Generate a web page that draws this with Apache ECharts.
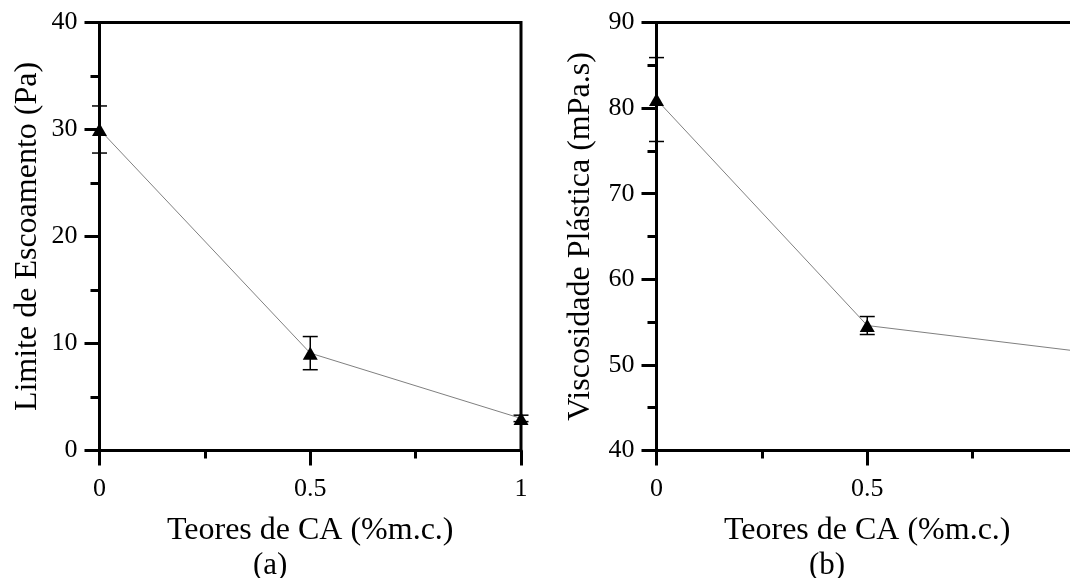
<!DOCTYPE html>
<html>
<head>
<meta charset="utf-8">
<script src="https://cdn.jsdelivr.net/npm/echarts@6/dist/echarts.min.js"></script>
<style>
html,body{margin:0;padding:0;background:#fff;}
#chart{width:1070px;height:578px;}
</style>
</head>
<body>
<div id="chart"></div>
<script>
// ---- data ----
const caContent = [0, 0.5, 1];                 // Teores de CA (%m.c.)
const yieldStress = [30.0, 9.1, 3.0];          // Limite de Escoamento (Pa)
const yieldStressErr = [2.2, 1.55, 0.3];
const plasticVisc = [81.0, 54.6, 51.6];        // Viscosidade Plástica (mPa.s)
const plasticViscErr = [4.9, 1.05, 5.6];
const xTitle = 'Teores de CA (%m.c.)';
const yTitleA = 'Limite de Escoamento (Pa)';
const yTitleB = 'Viscosidade Plástica (mPa.s)';
const panelLabels = ['(a)', '(b)'];

const FONT = '"Liberation Serif", "Times New Roman", serif';

function xAxisCfg(idx) {
  return {
    type: 'value', gridIndex: idx, min: 0, max: 1, interval: 0.5,
    name: xTitle, nameLocation: 'middle', nameGap: 64,
    nameTextStyle: { fontFamily: FONT, fontSize: 32, color: '#000' },
    axisLine: { show: true, lineStyle: { color: '#000', width: 3 } },
    axisTick: { show: true, length: 15, lineStyle: { color: '#000', width: 3 } },
    minorTick: { show: true, splitNumber: 2, length: 8, lineStyle: { color: '#000', width: 3 } },
    axisLabel: { fontFamily: FONT, fontSize: 26, color: '#000', margin: 26, showMaxLabel: true, showMinLabel: true },
    splitLine: { show: false }, minorSplitLine: { show: false }
  };
}
function yAxisCfg(idx, min, max, name, gap) {
  return {
    type: 'value', gridIndex: idx, min: min, max: max, interval: 10,
    name: name, nameLocation: 'middle', nameGap: gap,
    nameTextStyle: { fontFamily: FONT, fontSize: 32, color: '#000' },
    axisLine: { show: true, lineStyle: { color: '#000', width: 3 } },
    axisTick: { show: true, length: 15, lineStyle: { color: '#000', width: 3 } },
    minorTick: { show: true, splitNumber: 2, length: 9, lineStyle: { color: '#000', width: 3 } },
    axisLabel: { fontFamily: FONT, fontSize: 26, color: '#000', margin: 22 },
    splitLine: { show: false }, minorSplitLine: { show: false }
  };
}
function lineSeries(idx, values) {
  return {
    type: 'line', xAxisIndex: idx, yAxisIndex: idx,
    data: caContent.map((x, k) => [x, values[k]]),
    symbol: 'triangle', symbolSize: [15, 13],
    itemStyle: { color: '#000' },
    lineStyle: { color: '#808080', width: 1 },
    clip: false, z: 5, animation: false
  };
}
function errSeries(idx, values, errs) {
  return {
    type: 'custom', xAxisIndex: idx, yAxisIndex: idx,
    data: caContent.map((x, k) => [x, values[k] - errs[k], values[k] + errs[k]]),
    renderItem: function (params, api) {
      const lo = api.coord([api.value(0), api.value(1)]);
      const hi = api.coord([api.value(0), api.value(2)]);
      const hw = 7.5;
      const st = { stroke: '#000', lineWidth: 1.5 };
      return {
        type: 'group', children: [
          { type: 'line', shape: { x1: lo[0], y1: lo[1], x2: hi[0], y2: hi[1] }, style: st },
          { type: 'line', shape: { x1: lo[0] - hw, y1: lo[1], x2: lo[0] + hw, y2: lo[1] }, style: st },
          { type: 'line', shape: { x1: hi[0] - hw, y1: hi[1], x2: hi[0] + hw, y2: hi[1] }, style: st }
        ]
      };
    },
    clip: false, z: 4, animation: false
  };
}

const chart = echarts.init(document.getElementById('chart'), null, { renderer: 'canvas' });
chart.setOption({
  backgroundColor: '#fff',
  animation: false,
  grid: [
    { left: 99.5, top: 22.5, width: 421.5, height: 428, containLabel: false, outerBoundsMode: 'none', show: true, borderColor: '#000', borderWidth: 3, backgroundColor: 'transparent' },
    { left: 656.5, top: 22.5, width: 421.5, height: 428, containLabel: false, outerBoundsMode: 'none', show: true, borderColor: '#000', borderWidth: 3, backgroundColor: 'transparent' }
  ],
  xAxis: [xAxisCfg(0), xAxisCfg(1)],
  yAxis: [
    yAxisCfg(0, 0, 40, yTitleA, 56),
    yAxisCfg(1, 40, 90, yTitleB, 60)
  ],
  series: [
    errSeries(0, yieldStress, yieldStressErr),
    lineSeries(0, yieldStress),
    errSeries(1, plasticVisc, plasticViscErr),
    lineSeries(1, plasticVisc)
  ],
  graphic: [
    { type: 'text', left: 253, top: 550, style: { text: panelLabels[0], fontFamily: FONT, fontSize: 31, fill: '#000' } },
    { type: 'text', left: 809, top: 550, style: { text: panelLabels[1], fontFamily: FONT, fontSize: 31, fill: '#000' } }
  ]
});
</script>
</body>
</html>
